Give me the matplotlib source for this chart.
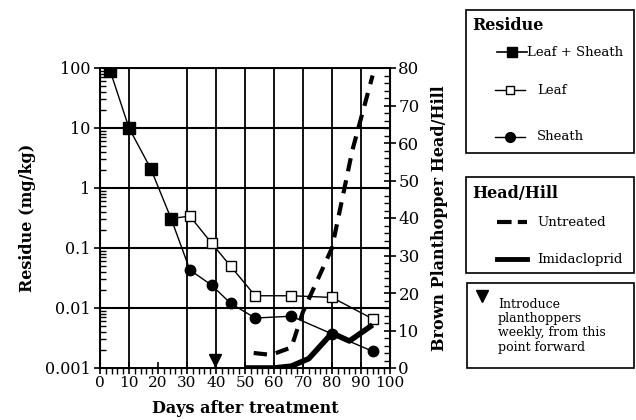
import matplotlib
matplotlib.use("Agg")
import matplotlib.pyplot as plt
from matplotlib.patches import Rectangle
from matplotlib.lines import Line2D
import matplotlib.ticker as mticker

plt.rcParams['font.family'] = ['DejaVu Serif']

# Residue data (mg/kg)
ls_days = [3.5, 10, 17.5, 24.5]
ls_res = [90, 10, 2.1, 0.31]

leaf_days = [24.5, 31, 38.5, 45, 53.5, 66, 80, 94]
leaf_res = [0.31, 0.34, 0.12, 0.05, 0.016, 0.016, 0.015, 0.0066]

sheath_days = [24.5, 31, 38.5, 45, 53.5, 66, 80, 94]
sheath_res = [0.31, 0.043, 0.024, 0.012, 0.0068, 0.0073, 0.0037, 0.0019]

# Brown planthopper head/hill
untr_days = [53, 59, 66, 70, 80, 87, 94]
untr_val = [4, 3.5, 5.5, 15, 32, 58, 78]

imid_days = [50, 60, 66, 72, 80, 86, 94]
imid_val = [0, 0, 0.5, 2.5, 9.3, 7.2, 11.5]

intro_day = 39.5

fig = plt.figure(figsize=(6.36, 4.2), dpi=100)
ax = fig.add_axes([100/636, 1-368/420, 290/636, 300/420])
ax.set_yscale('log')
ax.set_xlim(0, 100)
ax.set_ylim(0.001, 100)

# grid
for gx in [10, 30, 40, 50, 60, 70, 80, 90]:
    ax.axvline(gx, color='black', lw=1.3, zorder=1)
for gy in [0.01, 0.1, 1, 10]:
    ax.axhline(gy, color='black', lw=1.5, zorder=1)

ax.plot(leaf_days, leaf_res, color='black', lw=1.0, marker='s', ms=7,
        mfc='white', mec='black', mew=1.0, markevery=list(range(1, len(leaf_days))), zorder=3)
ax.plot(sheath_days, sheath_res, color='black', lw=1.0, marker='o', ms=7.5,
        mfc='black', mec='black', markevery=list(range(1, len(sheath_days))), zorder=3)
ax.plot(ls_days, ls_res, color='black', lw=1.0, marker='s', ms=8.5,
        mfc='black', mec='black', zorder=4)

# introduction arrow
ax.plot([intro_day], [0.00135], marker='v', ms=8, color='black', zorder=5)
ax.plot([intro_day, intro_day], [0.0014, 0.001], color='black', lw=1.8, zorder=5)

ax.set_xticks(range(0, 101, 10))
ax.xaxis.set_minor_locator(mticker.MultipleLocator(2))
ax.set_yticks([0.001, 0.01, 0.1, 1, 10, 100])
ax.set_yticklabels(['0.001', '0.01', '0.1', '1', '10', '100'])
ax.yaxis.set_minor_locator(mticker.LogLocator(base=10, subs=range(2, 10)))
ax.yaxis.set_minor_formatter(mticker.NullFormatter())
ax.tick_params(axis='x', which='major', direction='inout', length=8, width=1.2, labelsize=11, pad=2)
ax.tick_params(axis='x', which='minor', direction='out', length=4, width=1)
ax.tick_params(axis='y', which='major', direction='inout', length=8, width=1.2, labelsize=11.5, pad=3)
ax.tick_params(axis='y', which='minor', direction='in', length=4, width=1)
for s in ax.spines.values():
    s.set_linewidth(1.4)
ax.set_xlabel('Days after treatment', fontsize=11.5, fontweight='bold', labelpad=7)
ax.set_ylabel('Residue (mg/kg)', fontsize=11.5, fontweight='bold', labelpad=6)

ax2 = ax.twinx()
ax2.set_ylim(0, 80)
ax2.plot(untr_days, untr_val, color='black', lw=3, dashes=(3.2, 2.2), zorder=3)
ax2.plot(imid_days, imid_val, color='black', lw=4, solid_capstyle='butt', zorder=3)
ax2.set_yticks(range(0, 81, 10))
ax2.yaxis.set_minor_locator(mticker.MultipleLocator(2))
ax2.tick_params(axis='y', which='major', direction='inout', length=8, width=1.2, labelsize=12, pad=2)
ax2.tick_params(axis='y', which='minor', direction='in', length=4, width=1)
ax2.set_ylabel('Brown Planthopper Head/Hill', fontsize=11.5, fontweight='bold', labelpad=8)

# legend boxes (figure coords)
def fx(px):
    return px / 636
def fy(py):
    return 1 - py / 420

def box(x0, y0, x1, y1):
    fig.patches.append(Rectangle((fx(x0), fy(y1)), fx(x1) - fx(x0), fy(y0) - fy(y1),
                                 transform=fig.transFigure, fill=False, ec='black', lw=1.2))

def legline(x0, x1, y, **kw):
    fig.lines.append(Line2D([fx(x0), fx(x1)], [fy(y), fy(y)], transform=fig.transFigure, **kw))

def legmark(x, y, **kw):
    fig.lines.append(Line2D([fx(x)], [fy(y)], transform=fig.transFigure, lw=0, **kw))

box(466, 10, 634, 153)
fig.text(fx(472), fy(25), 'Residue', fontsize=11.5, fontweight='bold', va='center')
legline(497, 527, 52, color='black', lw=1.2)
legmark(512, 52, color='black', marker='s', ms=7, mfc='black')
fig.text(fx(527), fy(52), 'Leaf + Sheath', fontsize=9.5, va='center')
legline(495, 525, 90, color='black', lw=1)
legmark(510, 90, color='black', marker='s', ms=6, mfc='white')
fig.text(fx(537), fy(90), 'Leaf', fontsize=9.5, va='center')
legline(495, 525, 137, color='black', lw=1)
legmark(510, 137, color='black', marker='o', ms=7, mfc='black')
fig.text(fx(537), fy(137), 'Sheath', fontsize=9.5, va='center')

box(466, 177, 634, 273)
fig.text(fx(472), fy(194), 'Head/Hill', fontsize=11.5, fontweight='bold', va='center')
legline(497, 527, 222, color='black', lw=3, dashes=(3.5, 1.5))
fig.text(fx(537), fy(222), 'Untreated', fontsize=9.5, va='center')
legline(497, 527, 259, color='black', lw=3.5)
fig.text(fx(537), fy(259), 'Imidacloprid', fontsize=9.5, va='center')

box(467, 283, 634, 368)
legmark(482, 296, color='black', marker='v', ms=8)
fig.text(fx(498), fy(298), 'Introduce\nplanthoppers\nweekly, from this\npoint forward',
         fontsize=9, va='top', linespacing=1.12)

fig.savefig('out.png', dpi=100)
